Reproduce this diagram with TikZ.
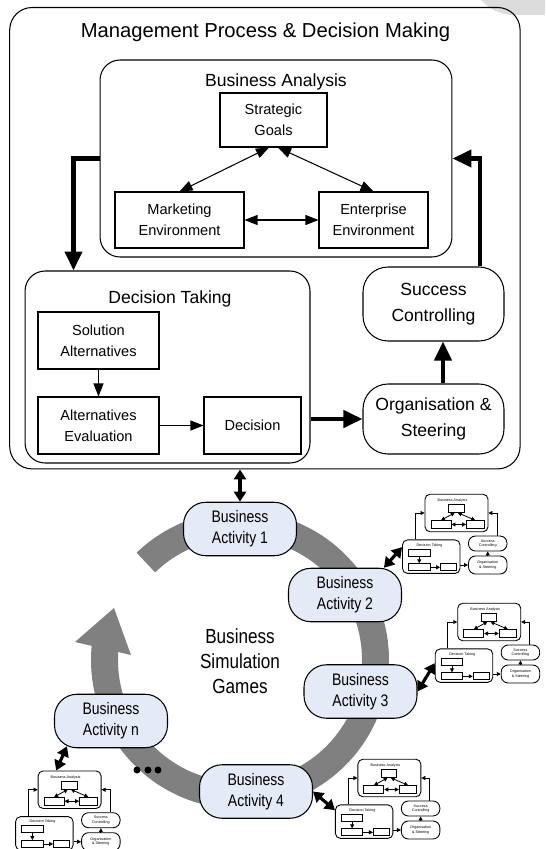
\documentclass[tikz,border=0pt]{standalone}
\usepackage{fontspec}
\setmainfont{Liberation Sans}
\newfontfamily\narrowfont{Liberation Sans}[FakeStretch=0.84]
\usetikzlibrary{arrows.meta,positioning}
\definecolor{actblue}{RGB}{228,234,246}
\definecolor{ringgray}{RGB}{128,128,128}
\definecolor{shadegray}{RGB}{220,220,220}

\tikzset{
    plainbox/.style={draw, line width=0.6pt, align=center, inner sep=0pt, font=\fontsize{8.3}{12}\selectfont},
    groupbox/.style={draw, line width=0.6pt, rounded corners=0.4cm, inner sep=0pt},
    softbox/.style={draw, line width=0.6pt, rounded corners=0.5cm, align=center, inner sep=0pt, font=\fontsize{10}{15}\selectfont},
    grouplabel/.style={inner sep=0pt, font=\fontsize{10}{12}\selectfont},
    activity/.style={draw, line width=0.6pt, fill=actblue, rounded corners=0.45cm, align=center, inner sep=0pt,
        minimum width=2.26cm, minimum height=1.07cm, font=\narrowfont\fontsize{9.5}{12}\selectfont},
    linkarrow/.style={line width=0.6pt, -{Triangle[length=0.26cm,width=0.2cm]}},
    linkboth/.style={line width=0.6pt, {Triangle[length=0.26cm,width=0.2cm]}-{Triangle[length=0.26cm,width=0.2cm]}},
    flowarrow/.style={line width=2.3pt, -{Triangle[length=0.38cm,width=0.34cm]}},
    swaparrow/.style={line width=1.8pt, {Triangle[length=0.2cm,width=0.24cm]}-{Triangle[length=0.2cm,width=0.24cm]}},
    dot/.style={circle, fill=black, inner sep=0pt, minimum size=0.14cm},
    % small copies of the management process
    minibox/.style={draw, line width=0.5pt, inner sep=0pt},
    minigroup/.style={draw, line width=0.5pt, rounded corners=0.1cm, inner sep=0pt},
    minisoft/.style={draw, line width=0.5pt, rounded corners=0.14cm, align=center, inner sep=0pt, font=\fontsize{2.1}{2.6}\selectfont},
    minilabel/.style={inner sep=0pt, font=\fontsize{2.1}{2.6}\selectfont},
    minilink/.style={line width=0.45pt, -{Triangle[length=0.08cm,width=0.08cm]}},
    miniboth/.style={line width=0.45pt, {Triangle[length=0.08cm,width=0.08cm]}-{Triangle[length=0.08cm,width=0.08cm]}},
    thumb/.pic={
        % Analysis block
        \node[minigroup, minimum width=1.26cm, minimum height=0.75cm] (-ba) at (54,18.7) {};
        \node[minilabel] (-balabel) at (50,6.5) {Business Analysis};
        \node[minibox, minimum width=0.31cm, minimum height=0.16cm] (-sg) at (53.75,14) {};
        \node[minibox, minimum width=0.4cm, minimum height=0.15cm] (-me) at (38.5,30.2) {};
        \node[minibox, minimum width=0.35cm, minimum height=0.15cm] (-ee) at (72.75,30.2) {};
        \draw[miniboth] ([xshift=-0.03cm]-sg.south) -- (-me.north);
        \draw[miniboth] ([xshift=0.03cm]-sg.south) -- (-ee.north);
        \draw[miniboth] (-me) -- (-ee);
        % Decision block
        \node[minigroup, minimum width=1.15cm, minimum height=0.67cm] (-dt) at (28.75,62.35) {};
        \node[minilabel] (-dtlabel) at (27,51) {Decision Taking};
        \node[minibox, minimum width=0.43cm, minimum height=0.14cm] (-sa) at (16.75,58.2) {};
        \node[minibox, minimum width=0.43cm, minimum height=0.14cm] (-ae) at (16.75,73) {};
        \node[minibox, minimum width=0.32cm, minimum height=0.14cm] (-dec) at (46,73) {};
        \draw[minilink] (-sa) -- (-ae);
        \draw[minilink] (-ae) -- (-dec);
        % Right column
        \node[minisoft, minimum width=0.77cm, minimum height=0.3cm] (-sc) at (85.25,49.2) {Success\\Controlling};
        \node[minisoft, minimum width=0.77cm, minimum height=0.36cm] (-os) at (85.25,70.7) {Organisation\\\& Steering};
        \draw[minilink] (-os.west -| -dt.east) -- (-os.west);
        \draw[minilink] (-os) -- (-sc);
        \draw[minilink] ([xshift=0.26cm]-dt.north west) |- (-ba.west);
        \draw[minilink] ([xshift=-0.21cm]-sc.north east) |- (-ba.east);
    }
}

\begin{document}
\begin{tikzpicture}[x=0.02cm, y=-0.02cm]
    \useasboundingbox (0,0) rectangle (545,849);
    % Grey corner shape (top right)
    \fill[shadegray] (481,0) -- (545,0) -- (545,15) -- (512,15) .. controls (498,14) and (489,8) .. (481,0) -- cycle;

    % --- Management process (top)
    \node[groupbox, rounded corners=0.45cm, minimum width=10.21cm, minimum height=9.23cm] (mgmt) at (264.9,238.2) {};
    \node[inner sep=0pt, font=\fontsize{11.5}{14}\selectfont] (title) at (265.5,32) {Management Process \& Decision Making};

    % Business analysis
    \node[groupbox, minimum width=7.04cm, minimum height=3.94cm] (analysis) at (276,158.5) {};
    \node[grouplabel] (analysislabel) at (276,82) {Business Analysis};
    \node[plainbox, minimum width=2.14cm, minimum height=1.08cm] (goals) at (273.5,120) {Strategic\\Goals};
    \node[plainbox, minimum width=2.58cm, minimum height=1.12cm] (market) at (179.5,220) {Marketing\\Environment};
    \node[plainbox, minimum width=2.18cm, minimum height=1.12cm] (enterprise) at (373.5,220) {Enterprise\\Environment};
    \draw[linkboth] ([xshift=-0.09cm]goals.south) -- (market.north);
    \draw[linkboth] ([xshift=0.09cm]goals.south) -- (enterprise.north);
    \draw[linkboth] (market) -- (enterprise);

    % Decision taking
    \node[groupbox, minimum width=5.7cm, minimum height=3.84cm] (taking) at (167.5,367) {};
    \node[grouplabel] (takinglabel) at (170,299) {Decision Taking};
    \node[plainbox, minimum width=2.42cm, minimum height=1.14cm] (solutions) at (98.5,340.5) {Solution\\Alternatives};
    \node[plainbox, minimum width=2.42cm, minimum height=1.14cm] (evaluation) at (98.5,425.5) {Alternatives\\Evaluation};
    \node[plainbox, minimum width=1.94cm, minimum height=1.14cm] (decision) at (252.5,425.5) {Decision};
    \draw[linkarrow] (solutions) -- (evaluation);
    \draw[linkarrow] (evaluation) -- (decision);

    % Steering and controlling
    \node[softbox, minimum width=2.82cm, minimum height=1.48cm] (control) at (433.5,304) {Success\\Controlling};
    \node[softbox, minimum width=2.82cm, minimum height=1.4cm] (steering) at (433.5,419) {Organisation \&\\Steering};

    % Main loop
    \draw[flowarrow] (analysis.west) -| ([xshift=0.98cm]taking.north west);
    \draw[flowarrow] (steering.west -| taking.east) -- (steering.west);
    \draw[flowarrow] ([xshift=0.19cm]steering.north) -- ([xshift=0.19cm]control.south);
    \draw[flowarrow] ([xshift=-0.5cm]control.north east) |- (analysis.east);

    % --- Simulation cycle (bottom)
    \draw[ringgray, line width=0.54cm] (240,660) ++(-134:135.5) arc[start angle=-134, end angle=188, radius=135.5];
    \fill[ringgray] (75,642) -- (114,608) -- (131,655) -- cycle;
    \node[inner sep=0pt, align=center, font=\narrowfont\fontsize{11.6}{14.2}\selectfont] (games) at (240,661) {Business\\Simulation\\Games};

    \node[activity] (act1) at (240,529) {Business\\Activity 1};
    \node[activity] (act2) at (345,595) {Business\\Activity 2};
    \node[activity] (act3) at (360.5,691.5) {Business\\Activity 3};
    \node[activity] (act4) at (256,791.5) {Business\\Activity 4};
    \node[activity] (actn) at (111,721) {Business\\Activity n};
    \foreach \i/\x in {1/137,2/148,3/158}
        \node[dot] (dot\i) at (\x,770) {};

    \draw[swaparrow] (mgmt.south -| act1.north) -- (act1.north);

    % Small copies beside the activities
    \pic (t2) at (402.5,494.3) {thumb};
    \pic (t3) at (435.2,603.3) {thumb};
    \pic (t4) at (335.4,759.3) {thumb};
    \pic (tn) at (15.6,771) {thumb};

    \draw[swaparrow] (act2.35) -- ([yshift=0.19cm]t2-dt.west);
    \draw[swaparrow] (act3.east) -- ([yshift=0.05cm]t3-dt.west);
    \draw[swaparrow] (act4.east) -- ([yshift=0.23cm]t4-dt.west);
    \draw[swaparrow] ([xshift=0.26cm,yshift=0.04cm]actn.south west) -- ([xshift=0.37cm]tn-ba.north west);
\end{tikzpicture}
\end{document}
